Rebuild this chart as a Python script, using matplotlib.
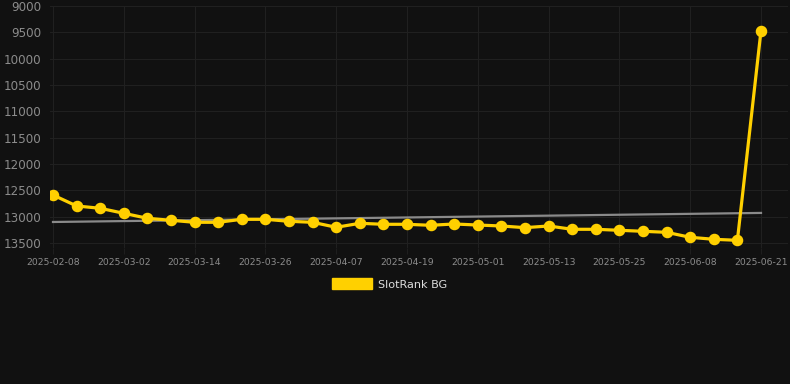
import numpy as np
import matplotlib
matplotlib.use("Agg")
import matplotlib.pyplot as plt

dates = ["2025-02-08", "2025-02-15", "2025-02-22", "2025-03-02", "2025-03-06", "2025-03-10",
         "2025-03-14", "2025-03-18", "2025-03-22", "2025-03-26", "2025-03-30", "2025-04-03",
         "2025-04-07", "2025-04-11", "2025-04-15", "2025-04-19", "2025-04-23", "2025-04-27",
         "2025-05-01", "2025-05-05", "2025-05-09", "2025-05-13", "2025-05-17", "2025-05-21",
         "2025-05-25", "2025-05-30", "2025-06-04", "2025-06-08", "2025-06-12", "2025-06-16",
         "2025-06-21"]
ranks = [12590, 12798, 12842, 12937, 13032, 13070, 13108, 13108, 13051, 13051, 13089, 13108,
         13203, 13127, 13146, 13146, 13165, 13140, 13160, 13178, 13210, 13178, 13241, 13241,
         13260, 13279, 13298, 13393, 13431, 13450, 9469]
series_name = "SlotRank BG"
y_ticks = [9000, 9500, 10000, 10500, 11000, 11500, 12000, 12500, 13000, 13500]

W, H = 790, 384
fig = plt.figure(figsize=(W / 100, H / 100), dpi=100)
fig.patch.set_facecolor("#111111")
left, right, top, bottom = 50, 788, 6, 248.2
ax = fig.add_axes([left / W, 1 - bottom / H, (right - left) / W, (bottom - top) / H])
ax.set_facecolor("#111111")

x = np.arange(len(ranks))
coef = np.polyfit(x, ranks, 1)
ax.plot([x[0], x[-1]], np.polyval(coef, [x[0], x[-1]]), color="#8a8a8a", lw=1.6, zorder=2)
ax.plot(x, ranks, color="#FFD000", lw=2.3, marker="o", markersize=7.3, zorder=3)

px_per_idx = (761 - 53) / 30
ax.set_xlim(-(53 - left) / px_per_idx, 30 + (right - 761) / px_per_idx)
ax.set_ylim(13600, 9000)

tick_idx = list(range(0, len(dates), 3))
ax.set_xticks(tick_idx)
ax.set_xticklabels([dates[i] for i in tick_idx], fontsize=6.7, color="#8c8c8c")
ax.set_yticks(y_ticks)
ax.set_yticklabels([str(v) for v in y_ticks], fontsize=8.6, color="#8c8c8c")
ax.tick_params(axis="x", length=4, color="#1e1e1e", pad=3)
ax.tick_params(axis="y", length=0, pad=6)
ax.grid(True, color="#202020", lw=0.8)
for s in ax.spines.values():
    s.set_visible(False)

# legend
fig.patches.append(plt.Rectangle((332 / W, 1 - 289 / H), 40 / W, 11 / H,
                                 transform=fig.transFigure, color="#FFD000"))
fig.text(378 / W, 1 - 284.5 / H, series_name, fontsize=8.1, color="#dddddd", va="center", ha="left")

fig.savefig("out.png", dpi=100, facecolor=fig.get_facecolor())
